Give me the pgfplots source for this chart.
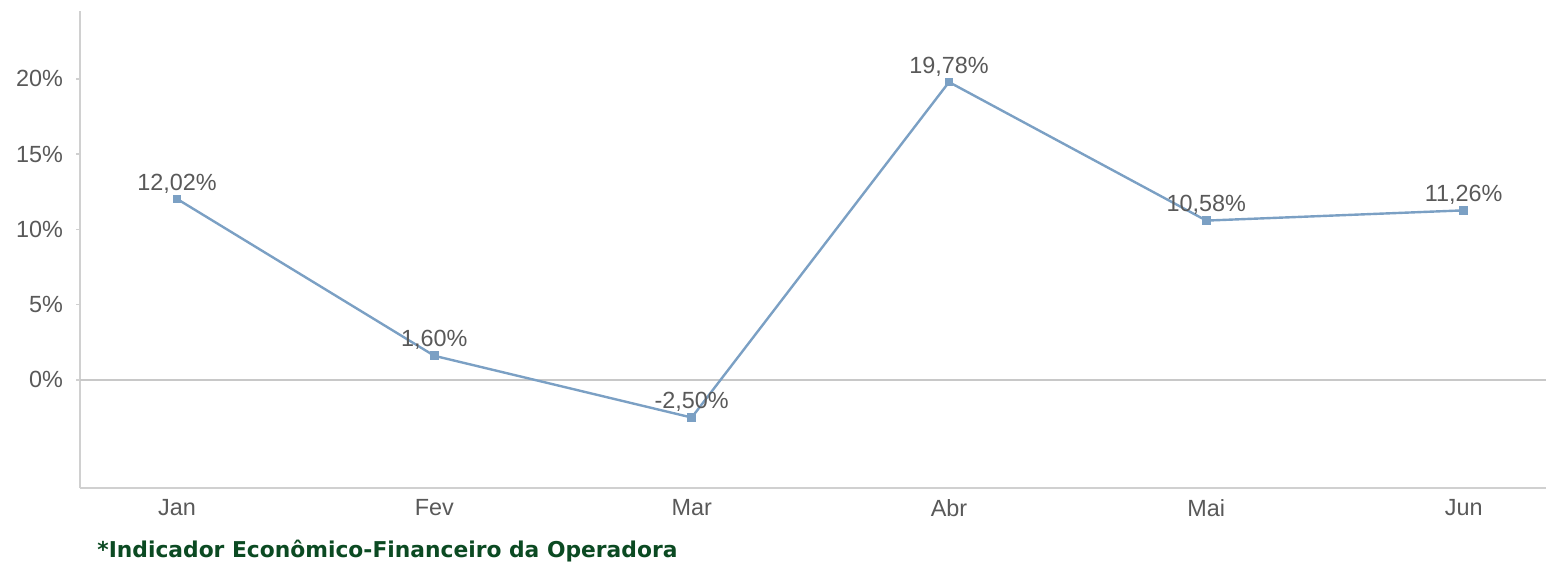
\documentclass[border=0pt]{standalone}
\usepackage{pgfplots}
\pgfplotsset{compat=1.18}
\usepackage{pgfplotstable}
\usepackage{fontspec}
\setmainfont{Liberation Sans}
\newfontfamily\notefont{DejaVu Sans}
\definecolor{txtgray}{HTML}{595959}
\definecolor{axgray}{HTML}{D0D0D0}
\definecolor{zerogray}{HTML}{C8C8C8}
\definecolor{lineblue}{HTML}{7BA0C4}
\definecolor{notegreen}{HTML}{0B4A22}
\pgfplotstableread{
x y lab
0 12.02 12,02\%
1 1.60 1,60\%
2 -2.50 -2,50\%
3 19.78 19,78\%
4 10.58 10,58\%
5 11.26 11,26\%
}\datatable
\begin{document}
\begin{tikzpicture}[x=0.5pt,y=-0.5pt]
\useasboundingbox (0,0) rectangle (1546,563);
\coordinate (A) at (80,11);
\begin{axis}[
  at={(A)}, anchor=north west,
  scale only axis,
  width=733pt, height=238.5pt,
  xmin=-0.377, xmax=5.32,
  ymin=-7.18, ymax=24.5,
  axis x line*=bottom, axis y line*=left,
  axis line style={axgray, line width=1pt, -},
  xtick=data,
  xticklabels={Jan,Fev,Mar,Abr,Mai,Jun},
  x tick style={draw=none},
  ytick={0,5,10,15,20},
  yticklabels={0\%,5\%,10\%,15\%,20\%},
  y tick style={axgray, line width=0.8pt},
  tick align=outside,
  major tick length=2pt,
  ticklabel style={font=\fontsize{11.7}{13}\selectfont, text=txtgray},
  xticklabel style={yshift=0pt},
  yticklabel style={xshift=-3pt},
  clip=false,
]
\draw[zerogray, line width=0.8pt] (axis cs:-0.377,0) -- (axis cs:5.32,0);
\addplot[lineblue, line width=1.2pt, mark=square*, mark size=1.6pt,
  mark options={lineblue},
  nodes near coords, point meta=explicit symbolic,
  every node near coord/.append style={font=\fontsize{11.7}{13}\selectfont, text=txtgray, anchor=south, yshift=-1pt}]
  table[x=x, y=y, meta=lab] {\datatable};
\end{axis}
\node[anchor=base west, inner sep=0pt, font=\notefont\bfseries\fontsize{10.9}{12}\selectfont, text=notegreen] at (97,557) {*Indicador Econômico-Financeiro da Operadora};
\end{tikzpicture}
\end{document}
